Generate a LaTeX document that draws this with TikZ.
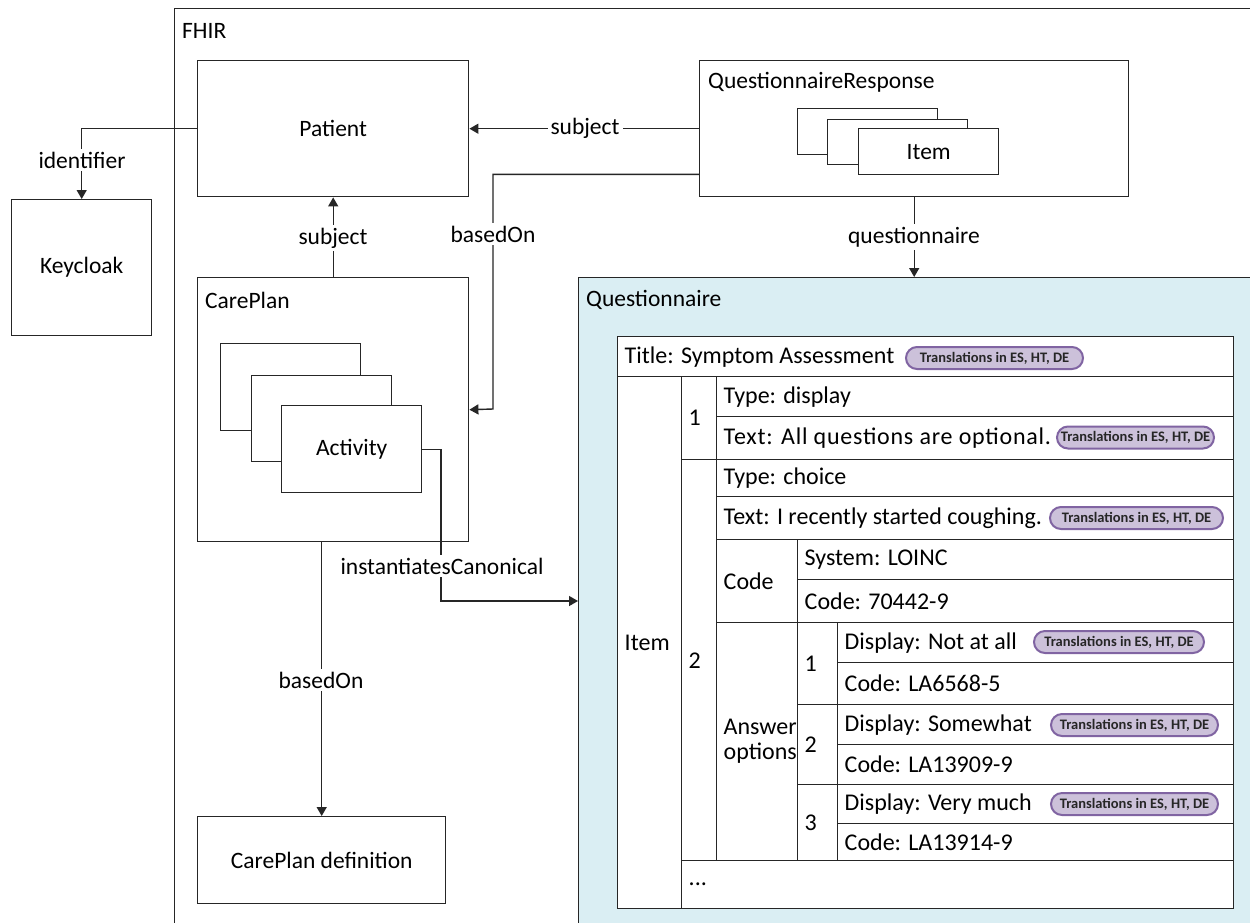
\documentclass[tikz,border=0pt]{standalone}
\usepackage{fontspec}
\setmainfont{Carlito}
\usetikzlibrary{arrows.meta}
\definecolor{linec}{HTML}{262626}
\definecolor{qfill}{HTML}{DAEEF3}
\definecolor{badgefill}{HTML}{CCC1DA}
\definecolor{badgeline}{HTML}{8064A2}
\newcommand\lblfont{\fontsize{23.5}{27}\selectfont}
\newcommand\tblfont{\fontsize{24}{25}\selectfont}
\newcommand\badgefont{\fontsize{14.5}{16}\selectfont\bfseries}
% table cell: name, x1, y1, x2, y2, text
\newcommand\qcell[6]{%
  \node[cell, anchor=north west, minimum width=#4-#2, minimum height=#5-#3] (#1) at (#2,#3) {};
  \node[celltext, anchor=west] (#1-t) at ([xshift=7.5pt]#1.west) {#6};}
% translation badge: name, x1, x2, centre y
\newcommand\qbadge[4]{%
  \node[badge, minimum width=#3-#2] (#1) at ({(#2+#3)/2},#4) {Translations in ES, HT, DE};}
\begin{document}
\begin{tikzpicture}[x=1pt,y=-1pt,
  box/.style={draw=linec, line width=1.4pt, fill=white, inner sep=0pt, rectangle, font=\lblfont},
  title/.style={inner sep=0pt, anchor=west, font=\lblfont},
  conn/.style={draw=linec, line width=1.4pt, -{Triangle[length=9pt,width=10pt]}},
  lbl/.style={fill=white, inner sep=3pt, font=\lblfont},
  cell/.style={draw=linec, line width=1.4pt, fill=white, inner sep=0pt, rectangle},
  celltext/.style={inner sep=0pt, font=\tblfont, align=left},
  badge/.style={draw=badgeline, fill=badgefill, line width=2pt, rounded corners=11pt,
    minimum height=22pt, inner sep=0pt, font=\badgefont, text=black!85}]
\useasboundingbox (0,0) rectangle (1250,922);
\clip (0,0) rectangle (1250,922);

% outer FHIR container
\node[box, anchor=north west, minimum width=1150, minimum height=1000] (fhir) at (174,8) {};
\node[title] (fhir-t) at (182,31) {FHIR};

% resources
\node[box, anchor=north west, minimum width=140, minimum height=136] (keycloak) at (11,199) {Keycloak};
\node[box, anchor=north west, minimum width=271, minimum height=136] (patient) at (197,60) {Patient};

\node[box, anchor=north west, minimum width=271, minimum height=264] (careplan) at (197,277) {};
\node[title] (careplan-t) at (205,300) {CarePlan};
\node[box, anchor=north west, minimum width=140, minimum height=87] (actb) at (220,343) {};
\node[box, anchor=north west, minimum width=140, minimum height=86] (actm) at (251,375) {};
\node[box, anchor=north west, minimum width=140, minimum height=87] (actf) at (281,405) {Activity};

\node[box, anchor=north west, minimum width=248, minimum height=87] (cpdef) at (197,816) {CarePlan definition};

\node[box, anchor=north west, minimum width=429, minimum height=136] (qr) at (699,60) {};
\node[title] (qr-t) at (708,82) {QuestionnaireResponse};
\node[box, anchor=north west, minimum width=140, minimum height=46] (itemb) at (797,108) {};
\node[box, anchor=north west, minimum width=140, minimum height=45] (itemm) at (827,119) {};
\node[box, anchor=north west, minimum width=140, minimum height=46] (itemf) at (858,128) {Item};

\node[box, fill=qfill, anchor=north west, minimum width=800, minimum height=800] (quest) at (578,277) {};
\node[title] (quest-t) at (586,300) {Questionnaire};

% questionnaire content table
\qcell{ttl}{617}{336}{1233}{376}{Title: Symptom Assessment}
\qcell{item}{617}{376}{681}{908}{Item}
\qcell{n1}{681}{376}{716}{459}{1}
\qcell{t1}{716}{376}{1233}{416}{Type: display}
\qcell{x1}{716}{416}{1233}{459}{\addfontfeature{LetterSpace=3.2}Text: All questions are optional.}
\qcell{n2}{681}{459}{716}{860}{2}
\qcell{t2}{716}{459}{1233}{496}{Type: choice}
\qcell{x2}{716}{496}{1233}{539}{Text: I recently started coughing.}
\qcell{code}{716}{539}{797}{622}{Code}
\qcell{sys}{797}{539}{1233}{579}{System: LOINC}
\qcell{cv}{797}{579}{1233}{622}{Code: 70442-9}
\qcell{ans}{716}{622}{797}{860}{Answer\\options}
\qcell{o1}{797}{622}{837}{704}{1}
\qcell{o1d}{837}{622}{1233}{662}{Display: Not at all}
\qcell{o1c}{837}{662}{1233}{704}{Code: LA6568-5}
\qcell{o2}{797}{704}{837}{784}{2}
\qcell{o2d}{837}{704}{1233}{744}{Display: Somewhat}
\qcell{o2c}{837}{744}{1233}{784}{Code: LA13909-9}
\qcell{o3}{797}{784}{837}{860}{3}
\qcell{o3d}{837}{784}{1233}{823}{Display: Very much}
\qcell{o3c}{837}{823}{1233}{860}{Code: LA13914-9}
\qcell{more}{681}{860}{1233}{908}{...}

\qbadge{bttl}{906}{1083}{358}
\qbadge{bx1}{1057}{1214}{437.5}
\qbadge{bx2}{1050}{1223}{518}
\qbadge{bo1}{1034}{1204}{642}
\qbadge{bo2}{1051}{1218}{725}
\qbadge{bo3}{1051}{1218}{804}

% references between resources
\coordinate (bend) at (493,409);
\coordinate (icturn) at (441,601);
\draw[conn] (patient.west) -| (keycloak.north);
\draw[conn] (careplan.north) -- (patient.south);
\draw[conn] (qr.west) -- (patient.east);
\draw[conn] ([yshift=23pt]qr.south west) -| (bend) -- (careplan.east);
\draw[conn] (qr.south) -- (qr.south |- quest.north);
\draw[conn] (actf.east) -| (icturn) -- (quest.west |- icturn);
\draw[conn] (cpdef.north |- careplan.south) -- (cpdef.north);

% connector labels
\node[lbl] (l-id) at (82,160) {identifier};
\node[lbl] (l-sub1) at (333,238) {subject};
\node[lbl] (l-sub2) at (585,128) {subject};
\node[lbl] (l-bo1) at (493,234) {basedOn};
\node[lbl] (l-q) at (914,237) {questionnaire};
\node[lbl] (l-ic) at (442,566) {instantiatesCanonical};
\node[lbl] (l-bo2) at (321,680) {basedOn};
\end{tikzpicture}
\end{document}
